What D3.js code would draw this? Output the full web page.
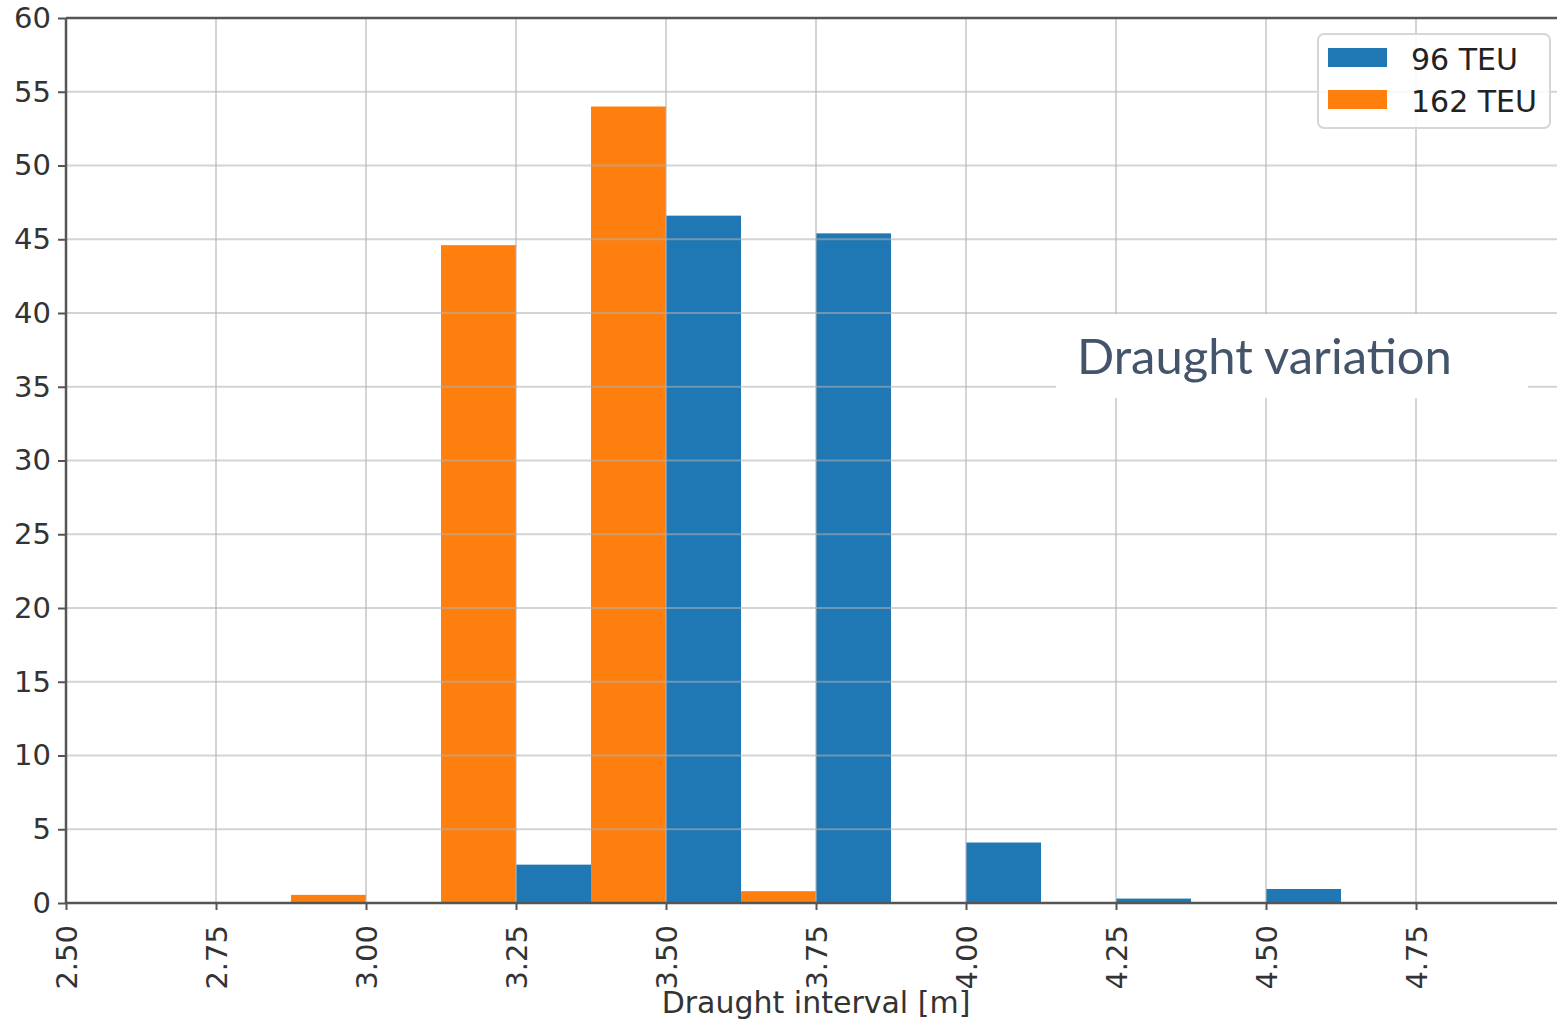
<!DOCTYPE html>
<html>
<head>
<meta charset="utf-8">
<script src="https://cdn.jsdelivr.net/npm/d3@7"></script>
<style>
  html, body { margin: 0; padding: 0; background: #fff; }
  svg { display: block; }
</style>
</head>
<body>
<div id="chart"></div>
<script>
// bin starts (width 0.25), left half = 96 TEU, right half = 162 TEU
var binStarts = [2.50, 2.75, 3.00, 3.25, 3.50, 3.75, 4.00, 4.25, 4.50, 4.75];
var teu96 = [0, 0, 0, 2.6, 46.6, 45.4, 4.1, 0.3, 0.95, 0];
var teu162 = [0, 0.55, 44.6, 54.0, 0.8, 0, 0, 0, 0, 0];
var seriesNames = ["96 TEU", "162 TEU"];
var seriesColors = ["#1f77b4", "#ff7f0e"];
var xTicks = [2.50, 2.75, 3.00, 3.25, 3.50, 3.75, 4.00, 4.25, 4.50, 4.75];
var yTicks = [0, 5, 10, 15, 20, 25, 30, 35, 40, 45, 50, 55, 60];
var binWidth = 0.25;

var width = 1557, height = 1022;
var plot = { left: 66, top: 18, right: 1566, bottom: 903 };
var tickFont = "'DejaVu Sans', sans-serif";

var svg = d3.select("#chart").append("svg")
  .attr("width", width)
  .attr("height", height);

var x = d3.scaleLinear().domain([2.5, 5.0]).range([plot.left, plot.right]);
var y = d3.scaleLinear().domain([0, 60]).range([plot.bottom, plot.top]);

// bars
var allSeries = [teu96, teu162];
allSeries.forEach(function (vals, s) {
  svg.append("g").selectAll("rect")
    .data(binStarts.map(function (b, i) { return { b: b, v: vals[i] }; })
      .filter(function (d) { return d.v > 0; }))
    .enter().append("rect")
    .attr("x", function (d) { return x(d.b + s * binWidth / 2); })
    .attr("width", function (d) { return x(d.b + binWidth / 2) - x(d.b); })
    .attr("y", function (d) { return y(d.v); })
    .attr("height", function (d) { return y(0) - y(d.v); })
    .attr("fill", seriesColors[s]);
});

// grid (drawn above bars, like the source)
var grid = svg.append("g").attr("stroke", "#b0b0b0").attr("stroke-opacity", 0.55).attr("stroke-width", 2);
grid.selectAll(".gx").data(xTicks.slice(1)).enter().append("line")
  .attr("x1", function (d) { return x(d); }).attr("x2", function (d) { return x(d); })
  .attr("y1", plot.top).attr("y2", plot.bottom);
grid.selectAll(".gy").data(yTicks.slice(1, -1)).enter().append("line")
  .attr("x1", plot.left).attr("x2", width)
  .attr("y1", function (d) { return y(d); }).attr("y2", function (d) { return y(d); });

// axes
var xAxis = svg.append("g")
  .attr("transform", "translate(0," + plot.bottom + ")")
  .call(d3.axisBottom(x).tickValues(xTicks).tickFormat(d3.format(".2f")).tickSizeOuter(0).tickSize(7));
xAxis.select(".domain").remove();
xAxis.selectAll(".tick line").attr("stroke", "#555").attr("stroke-width", 2);
xAxis.selectAll(".tick text")
  .attr("font-family", tickFont).attr("font-size", 29).attr("fill", "#333")
  .attr("transform", "rotate(-90)")
  .attr("x", -22).attr("y", 0).attr("dy", "0.35em")
  .attr("text-anchor", "end");

var yAxis = svg.append("g")
  .attr("transform", "translate(" + plot.left + ",0)")
  .call(d3.axisLeft(y).tickValues(yTicks).tickSizeOuter(0).tickSize(8).tickPadding(7));
yAxis.select(".domain").remove();
yAxis.selectAll(".tick line").attr("stroke", "#555").attr("stroke-width", 2);
yAxis.selectAll(".tick text")
  .attr("font-family", tickFont).attr("font-size", 29).attr("fill", "#333");

// spines
var spines = svg.append("g").attr("stroke", "#555").attr("stroke-width", 2.5);
spines.append("line").attr("x1", plot.left).attr("x2", plot.left).attr("y1", plot.top).attr("y2", plot.bottom);
spines.append("line").attr("x1", plot.left).attr("x2", width).attr("y1", plot.bottom).attr("y2", plot.bottom);
spines.append("line").attr("x1", plot.left).attr("x2", width).attr("y1", plot.top).attr("y2", plot.top);

// x label
svg.append("text")
  .attr("x", 816).attr("y", 1013)
  .attr("text-anchor", "middle")
  .attr("font-family", tickFont).attr("font-size", 30).attr("fill", "#333")
  .text("Draught interval [m]");

// legend
var legend = svg.append("g");
legend.append("rect")
  .attr("x", 1318).attr("y", 34).attr("width", 232).attr("height", 94)
  .attr("rx", 6).attr("fill", "#fff").attr("fill-opacity", 0.85)
  .attr("stroke", "#d6d6d6").attr("stroke-width", 2);
seriesNames.forEach(function (name, i) {
  legend.append("rect")
    .attr("x", 1328).attr("y", 48 + i * 42).attr("width", 59).attr("height", 19)
    .attr("fill", seriesColors[i]);
  legend.append("text")
    .attr("x", 1411).attr("y", 59 + i * 42).attr("dy", "0.35em")
    .attr("font-family", tickFont).attr("font-size", 30).attr("fill", "#222")
    .text(name);
});

// annotation box
svg.append("rect")
  .attr("x", 1056).attr("y", 314).attr("width", 472).attr("height", 84)
  .attr("fill", "#fff");
var note = svg.append("text")
  .attr("x", 1077).attr("y", 374)
  .attr("font-family", "Lato, 'Open Sans', sans-serif").attr("font-size", 46)
  .attr("fill", "#44546a")
  .text("Draught variation");
var w = note.node().getComputedTextLength();
note.attr("font-size", 46 * 375 / w);
</script>
</body>
</html>
